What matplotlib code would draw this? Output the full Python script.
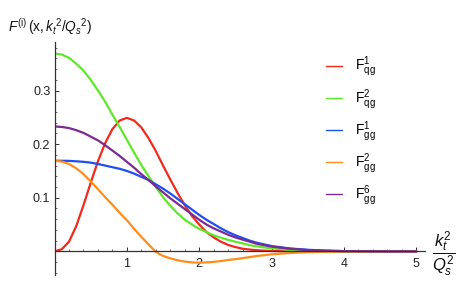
import matplotlib
matplotlib.use("Agg")
import matplotlib.pyplot as plt
from matplotlib.ticker import MultipleLocator

plt.rcParams['font.family'] = ['Liberation Sans', 'DejaVu Sans']
plt.rcParams['mathtext.fontset'] = 'custom'
plt.rcParams['mathtext.rm'] = 'Liberation Sans'
plt.rcParams['mathtext.it'] = 'Liberation Sans:italic'
plt.rcParams['mathtext.bf'] = 'Liberation Sans:bold'

# k_t^2 / Q_s^2 sample positions
u = [0.0, 0.1, 0.2, 0.3, 0.4, 0.5, 0.6, 0.7, 0.8, 0.9,
     1.0, 1.1, 1.2, 1.3, 1.4, 1.5, 1.6, 1.7, 1.8, 1.9,
     2.0, 2.1, 2.2, 2.3, 2.4, 2.5, 2.6, 2.7, 2.8, 2.9,
     3.0, 3.25, 3.5, 3.75, 4.0, 4.5, 5.0]

F_qg1 = [0.0, 0.004, 0.018, 0.047, 0.086, 0.128, 0.168, 0.202, 0.228, 0.244,
         0.249, 0.244, 0.231, 0.211, 0.187, 0.160, 0.134, 0.109, 0.086, 0.066,
         0.050, 0.036, 0.026, 0.018, 0.012, 0.008, 0.005, 0.0034, 0.0021, 0.0013,
         0.0008, 0.0002, 0.00005, 0.0, 0.0, 0.0, 0.0]

F_qg2 = [0.369, 0.367, 0.361, 0.350, 0.337, 0.320, 0.300, 0.279, 0.255, 0.232,
         0.208, 0.184, 0.161, 0.140, 0.120, 0.101, 0.085, 0.071, 0.059, 0.050,
         0.042, 0.036, 0.030, 0.0255, 0.0215, 0.018, 0.015, 0.0115, 0.0093, 0.0073,
         0.0057, 0.0028, 0.0013, 0.0006, 0.0002, 0.0, 0.0]

F_gg1 = [0.169, 0.169, 0.1688, 0.168, 0.167, 0.1655, 0.163, 0.160, 0.157, 0.154,
         0.150, 0.145, 0.139, 0.133, 0.125, 0.117, 0.108, 0.098, 0.088, 0.078,
         0.068, 0.059, 0.051, 0.043, 0.036, 0.030, 0.025, 0.020, 0.016, 0.013,
         0.010, 0.0055, 0.003, 0.0014, 0.0006, 0.0001, 0.0]

F_gg2 = [0.169, 0.1675, 0.163, 0.155, 0.144, 0.1305, 0.116, 0.101, 0.087, 0.072,
         0.058, 0.042, 0.027, 0.013, -0.001, -0.0085, -0.013, -0.0165, -0.019, -0.0205,
         -0.021, -0.0205, -0.0195, -0.018, -0.016, -0.0145, -0.0125, -0.0105, -0.0085, -0.007,
         -0.0055, -0.003, -0.0015, -0.0007, -0.0003, 0.0, 0.0]

F_gg6 = [0.233, 0.232, 0.230, 0.226, 0.221, 0.214, 0.207, 0.198, 0.188, 0.178,
         0.167, 0.156, 0.144, 0.133, 0.121, 0.110, 0.099, 0.089, 0.079, 0.069,
         0.059, 0.050, 0.043, 0.037, 0.031, 0.026, 0.022, 0.018, 0.014, 0.0115,
         0.009, 0.005, 0.0025, 0.0012, 0.0005, 0.0001, 0.0]

series = [F_qg1, F_qg2, F_gg1, F_gg2, F_gg6]
labels = [r"$\mathrm{F}^{1}_{\mathrm{qg}}$", r"$\mathrm{F}^{2}_{\mathrm{qg}}$",
          r"$\mathrm{F}^{1}_{\mathrm{gg}}$", r"$\mathrm{F}^{2}_{\mathrm{gg}}$",
          r"$\mathrm{F}^{6}_{\mathrm{gg}}$"]
colors = ["#f2291c", "#5ee82a", "#1f4ef2", "#ff8c1c", "#7a2a90"]

xticks = [1, 2, 3, 4, 5]
yticks = [0.1, 0.2, 0.3]
yticklabels = ["0.1", "0.2", "0.3"]

fig = plt.figure(figsize=(4.57, 2.85), dpi=100)
ax = fig.add_axes([0.1193, 0.0351, 0.8107, 0.8186])

for vals, lab, c in zip(series, labels, colors):
    ax.plot(u, vals, color=c, lw=1.6, label=lab, solid_capstyle='round')

ax.set_xlim(0, 5.12)
ax.set_ylim(-0.044, 0.391)

for s in ['top', 'right']:
    ax.spines[s].set_visible(False)
ax.spines['bottom'].set_position(('data', 0))
ax.spines['left'].set_position(('data', 0))
for s in ['bottom', 'left']:
    ax.spines[s].set_color('#333333')
    ax.spines[s].set_linewidth(0.9)

ax.set_xticks(xticks)
ax.set_xticklabels([str(t) for t in xticks])
ax.set_yticks(yticks)
ax.set_yticklabels(yticklabels)
ax.xaxis.set_minor_locator(MultipleLocator(0.2))
ax.yaxis.set_minor_locator(MultipleLocator(0.02))
ax.tick_params(which='major', direction='in', length=3, width=0.7, colors='#333333',
               labelsize=9, labelcolor='#222222')
ax.tick_params(which='minor', direction='in', length=1.6, width=0.6, colors='#555555')
ax.tick_params(axis='x', which='major', pad=5)
ax.tick_params(axis='y', which='major', pad=3)

fig.text(8 / 457, 1 - 32 / 285, r"$F^{\mathrm{(i)}}\,\mathrm{(x,}k_t{}^2\mathrm{/}Q_s{}^2\mathrm{)}$",
         fontsize=9.8, ha='left', va='baseline', color='#111111')
fig.text(444 / 457, 1 - 254 / 285, r"$\dfrac{k_t^2}{Q_s^2}$", fontsize=12,
         ha='center', va='center', color='#111111')

leg = ax.legend(frameon=False, loc='upper left', bbox_to_anchor=(326 / 457, 1 - 55 / 285),
                bbox_transform=fig.transFigure, borderpad=0, borderaxespad=0,
                handlelength=1.15, handletextpad=0.95, labelspacing=0.55, fontsize=10)
for line in leg.get_lines():
    line.set_linewidth(1.0)

fig.savefig("out.png", dpi=100)
